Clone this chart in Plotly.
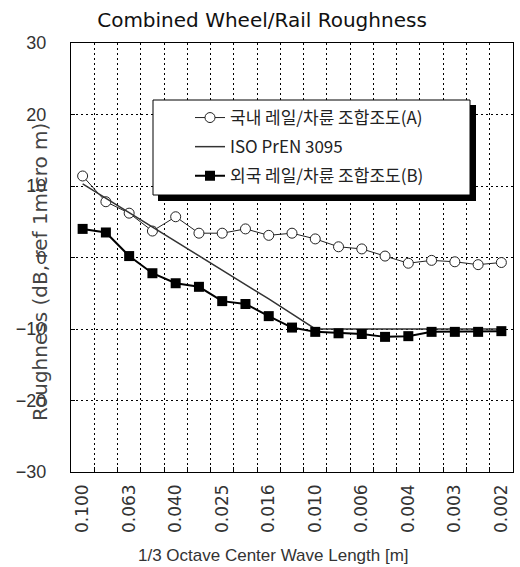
import plotly.graph_objects as go

# ---- data ----
wavelengths = ["0.100", "0.080", "0.063", "0.050", "0.040", "0.0315", "0.025", "0.020",
               "0.016", "0.0125", "0.010", "0.008", "0.0063", "0.005", "0.004", "0.00315",
               "0.0025", "0.002", "0.0016"]
tick_labels = ["0.100", "0.063", "0.040", "0.025", "0.016", "0.010", "0.006", "0.004",
               "0.003", "0.002"]
domestic_A = [11.4, 7.8, 6.2, 3.7, 5.7, 3.4, 3.4, 4.0, 3.1, 3.4, 2.6, 1.5, 1.2, 0.2,
              -0.8, -0.4, -0.6, -1.0, -0.7]
iso_prEN3095 = [10.3, 8.3, 6.3, 4.3, 2.3, 0.3, -1.7, -3.7, -5.8, -7.9, -10.0, -10.0,
                -10.0, -10.0, -10.0, -10.0, -10.0, -10.0, -10.0]
foreign_B = [4.0, 3.5, 0.2, -2.2, -3.6, -4.1, -6.1, -6.5, -8.2, -9.8, -10.4, -10.6,
             -10.7, -11.1, -11.0, -10.4, -10.4, -10.4, -10.3]
series_names = ["국내 레일/차륜 조합조도(A)", "ISO PrEN 3095", "외국 레일/차륜 조합조도(B)"]

idx = list(range(len(wavelengths)))
FONT = "Liberation Sans, Arial, sans-serif"
WFONT = "DejaVu Sans, sans-serif"
KFONT = "Noto Sans CJK KR, DejaVu Sans, sans-serif"

W, H = 520, 567
L, R, T, B = 71, 7, 43, 95
pw, ph = W - L - R, H - T - B


def px_x(p):
    return (p - L) / pw


def px_y(p):
    return (H - B - p) / ph


fig = go.Figure()
# empty trace that anchors the base (grid) subplot
fig.add_trace(go.Scatter(x=[], y=[], showlegend=False, hoverinfo="skip"))
fig.add_trace(go.Scatter(
    x=idx, y=domestic_A, name=series_names[0], mode="lines+markers", xaxis="x2",
    line=dict(color="#222", width=1),
    marker=dict(symbol="circle", size=10, color="white", line=dict(color="#222", width=1)),
    legendgroup="a"))
fig.add_trace(go.Scatter(
    x=idx, y=iso_prEN3095, name=series_names[1], mode="lines", xaxis="x2",
    line=dict(color="#333", width=1.5), legendgroup="b"))
fig.add_trace(go.Scatter(
    x=idx, y=foreign_B, name=series_names[2], mode="lines+markers", xaxis="x2",
    line=dict(color="black", width=2),
    marker=dict(symbol="square", size=10, color="black"), legendgroup="c"))

grid = dict(gridcolor="black", griddash="2px,3px", gridwidth=1)
xr = [-0.5, len(idx) - 0.5]

fig.update_layout(
    width=W, height=H,
    margin=dict(l=L, r=R, t=T, b=B, autoexpand=False),
    paper_bgcolor="white", plot_bgcolor="white",
    font=dict(family=FONT, color="#222"),
    title=dict(text="Combined Wheel/Rail Roughness", x=262 / W, xanchor="center",
               y=1 - 20 / H, yanchor="middle",
               font=dict(family=WFONT, size=20, color="#111")),
    # base x axis: category boundaries -> ticks + dotted grid, no labels
    xaxis=dict(range=xr, tickmode="array", tickvals=[i + 0.5 for i in idx[:-1]],
               showticklabels=False, ticks="inside", ticklen=5, tickcolor="black",
               showgrid=True, **grid, zeroline=False, automargin=False,
               showline=True, mirror=True, linecolor="black", linewidth=1),
    # overlaid x axis: category labels (every other one)
    xaxis2=dict(range=xr, overlaying="x", anchor="y", side="bottom",
                tickmode="array", tickvals=idx[::2], ticktext=tick_labels,
                tickangle=-90, ticks="", showgrid=False, zeroline=False, showline=False,
                tickfont=dict(family=WFONT, size=17, color="#333"),
                ticklabelstandoff=8, automargin=False),
    yaxis=dict(range=[-30, 30], tickmode="array", tickvals=[-30, -20, -10, 0, 10, 20, 30],
               ticks="inside", ticklen=4, tickcolor="black", showgrid=True, **grid,
               zeroline=False, showline=True, mirror=True, linecolor="black", linewidth=1,
               tickfont=dict(size=18, color="#333"), ticklabelstandoff=20,
               automargin=False),
    legend=dict(x=px_x(190), y=px_y(100), xanchor="left", yanchor="top",
                bgcolor="rgba(0,0,0,0)", borderwidth=0, tracegroupgap=4,
                font=dict(family=KFONT, size=17, color="#222"), traceorder="grouped"),
    showlegend=True,
)

# legend frame with drop shadow
fig.add_shape(type="rect", xref="paper", yref="paper", layer="above",
              x0=px_x(158), x1=px_x(476), y0=px_y(105), y1=px_y(201),
              fillcolor="black", line=dict(width=0))
fig.add_shape(type="rect", xref="paper", yref="paper", layer="above",
              x0=px_x(153), x1=px_x(470), y0=px_y(100), y1=px_y(195),
              fillcolor="white", line=dict(color="black", width=1))

fig.add_annotation(text="1/3 Octave Center Wave Length [m]", xref="paper", yref="paper",
                   x=px_x(273), y=px_y(555), showarrow=False, xanchor="center",
                   yanchor="middle", font=dict(size=17, color="#333"))
fig.add_annotation(text="Roughness (dB, ref 1micro m)", xref="paper", yref="paper",
                   x=px_x(40), y=px_y(272), showarrow=False, textangle=-90,
                   xanchor="center", yanchor="middle",
                   font=dict(family=WFONT, size=20, color="#444"))

fig.write_html("out.html", config={"displayModeBar": False},
               post_script="document.body.style.margin='0';document.body.style.padding='0';")
